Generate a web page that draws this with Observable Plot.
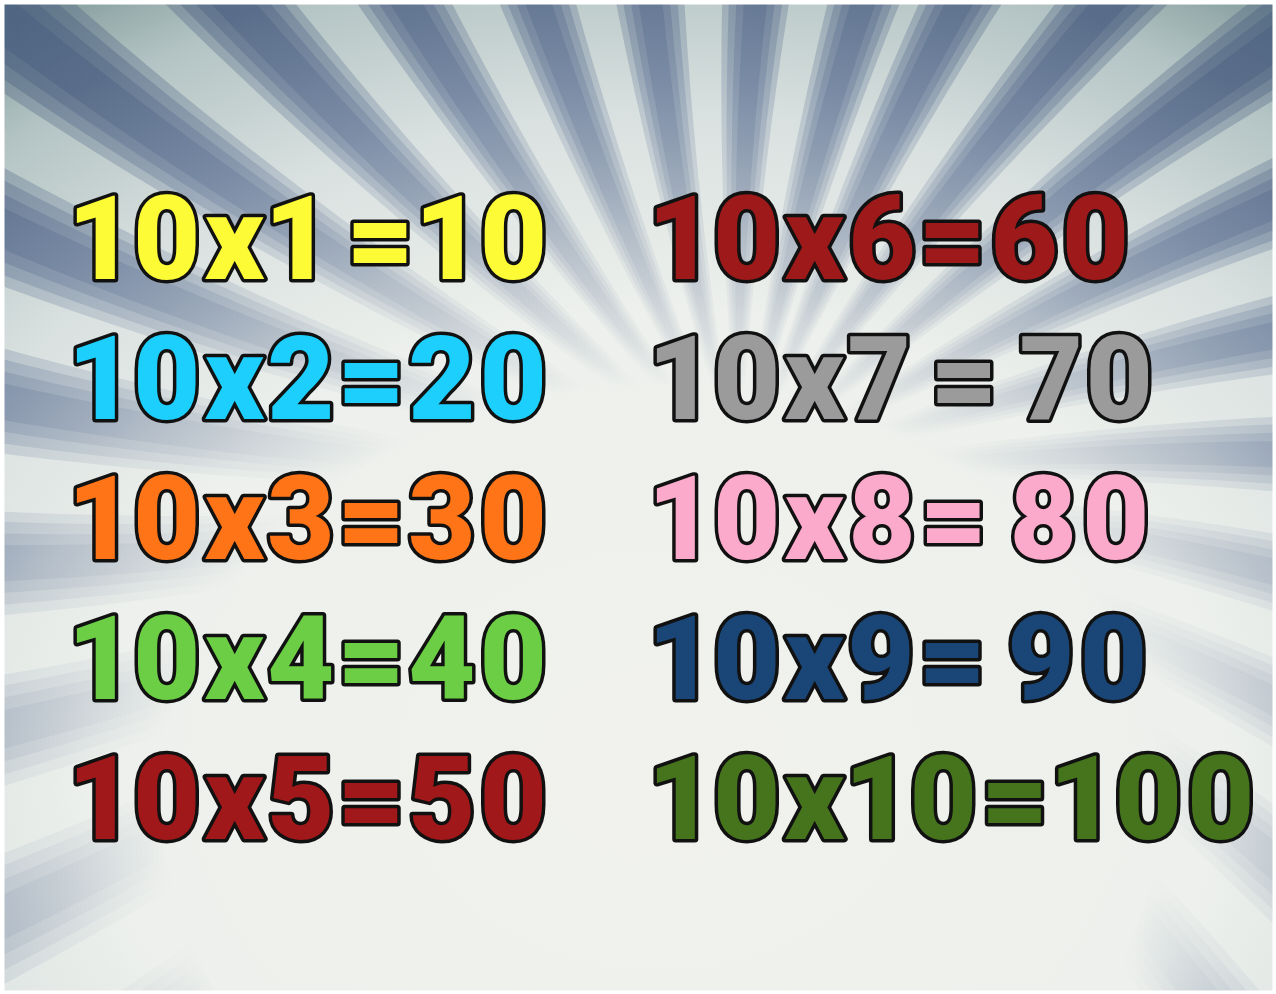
<!DOCTYPE html>
<html><head><meta charset="utf-8">
<script src="https://cdn.jsdelivr.net/npm/d3@7"></script>
<script src="https://cdn.jsdelivr.net/npm/@observablehq/plot@0.6"></script>
<style>
html,body{margin:0;padding:0;background:#fff;}
#chart{width:1276px;height:994px;overflow:hidden;}
#chart text{word-spacing:-14px;letter-spacing:3px;font-variant-numeric:proportional-nums;}
</style></head><body><div id="chart"></div>
<script>
// ---- data ----
const multiplicand = 10;
const multipliers = [1, 2, 3, 4, 5, 6, 7, 8, 9, 10];
const products = [10, 20, 30, 40, 50, 60, 70, 80, 90, 100];
const labels = ["10x1 =10", "10x2=20", "10x3=30", "10x4=40", "10x5=50",
                "10x6=60", "10x7 = 70", "10x8= 80", "10x9= 90", "10x10=100"];
const colors = ["#fdfb36", "#1ccffd", "#fe7417", "#6bce45", "#a01819",
                "#9e1a1a", "#9b9b9b", "#fcaacb", "#1a4677", "#45741d"];

// ---- layout ----
const W = 1276, H = 994;
const colX = [70, 650];
const rowBase = 278, rowStep = 140;

const table = multipliers.map((m, i) => ({
  label: labels[i],
  color: colors[i],
  product: products[i],
  x: colX[Math.floor(i / 5)],
  y: rowBase + (i % 5) * rowStep
}));

// decorative sunburst rays (background, not data): soft edges via stacked wedges
const center = [740, 480];
const period = 12.5, swirl = 0.12;
const layers = [1.4, 2.3, 3.2, 4.0];
const rays = [];
layers.forEach((halfWidth, li) => {
  for (let k = 0; k < 29; k++) {
    const a = (21 + k * period) * Math.PI / 180;
    const hw = halfWidth * Math.PI / 180;
    const pts = [];
    for (let r = 0; r <= 1000; r += 40) pts.push([a - hw + swirl * r / 1000, r]);
    for (let r = 1000; r >= 0; r -= 40) pts.push([a + hw + swirl * r / 1000, r]);
    for (const [ang, r] of pts) {
      rays.push({ray: li * 100 + k, x: center[0] + r * Math.sin(ang), y: center[1] - r * Math.cos(ang)});
    }
  }
});

const plot = Plot.plot({
  width: W, height: H,
  margin: 0,
  x: {domain: [0, W], range: [0, W], axis: null},
  y: {domain: [0, H], range: [0, H], axis: null},
  style: {background: "#ffffff"},
  marks: [
    Plot.frame({fill: "url(#bgGrad)", stroke: null}),
    Plot.line(rays, {x: "x", y: "y", z: "ray", curve: "linear-closed",
      fill: "url(#rayGrad)", fillOpacity: 0.3, stroke: null}),
    Plot.text(table, {
      x: "x", y: "y", text: "label", fill: "color",
      stroke: "#111", strokeWidth: 7, paintOrder: "stroke", strokeLinejoin: "round",
      textAnchor: "start", lineAnchor: "bottom",
      fontSize: 116, fontWeight: 900, fontFamily: "Roboto, 'Open Sans', sans-serif"
    }),
    Plot.frame({stroke: "#ffffff", strokeWidth: 8})
  ]
});

const ns = "http://www.w3.org/2000/svg";
const defs = document.createElementNS(ns, "defs");
defs.innerHTML = `
<radialGradient id="bgGrad" gradientUnits="userSpaceOnUse" cx="660" cy="760" r="900"
  gradientTransform="translate(660 760) scale(1.25 1) translate(-660 -760)">
  <stop offset="0" stop-color="#f1f2ee"/>
  <stop offset="0.5" stop-color="#edf0ec"/>
  <stop offset="0.72" stop-color="#d9e1e0"/>
  <stop offset="0.9" stop-color="#b3c3c3"/>
  <stop offset="1" stop-color="#869e9e"/>
</radialGradient>
<radialGradient id="rayGrad" gradientUnits="userSpaceOnUse" cx="660" cy="800" r="860"
  gradientTransform="translate(660 800) scale(1.2 1) translate(-660 -800)">
  <stop offset="0" stop-color="#4d6289" stop-opacity="0"/>
  <stop offset="0.48" stop-color="#4d6289" stop-opacity="0"/>
  <stop offset="0.66" stop-color="#4d6289" stop-opacity="0.32"/>
  <stop offset="0.84" stop-color="#4d6289" stop-opacity="0.78"/>
  <stop offset="1" stop-color="#3f5479" stop-opacity="1"/>
</radialGradient>`;
plot.insertBefore(defs, plot.firstChild);
document.getElementById("chart").appendChild(plot);
</script>
</body></html>
